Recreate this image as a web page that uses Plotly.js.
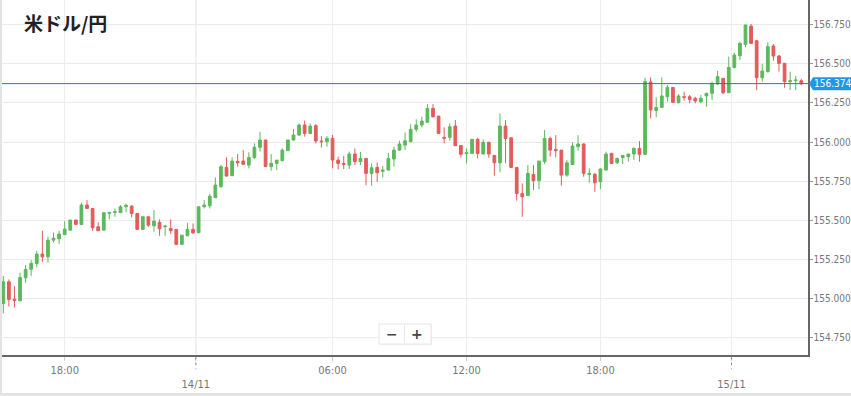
<!DOCTYPE html>
<html><head><meta charset="utf-8">
<script src="https://cdn.plot.ly/plotly-3.0.1.min.js"></script>
<style>
html,body{margin:0;padding:0;background:#e3e3e3;width:851px;height:396px;overflow:hidden}
#wrap{position:absolute;left:2px;top:0;width:849px;height:393px;background:#fff}
#chart{width:849px;height:393px}
</style></head>
<body><div id="wrap"><div id="chart"></div></div>
<script>
// 15-minute candles, USD/JPY, 13/11 15:15 -> 15/11 03:00
const startTime = '2024-11-13T15:15:00Z';
const stepMinutes = 15;
const open = [
154.965,155.104,154.993,154.982,155.130,155.185,155.222,155.282,155.264,155.371,
155.380,155.406,155.435,155.500,155.472,155.596,155.574,155.457,155.435,155.542,
155.549,155.547,155.585,155.589,155.542,155.440,155.521,155.463,155.485,155.457,
155.446,155.440,155.344,155.399,155.440,155.418,155.585,155.591,155.643,155.713,
155.837,155.784,155.876,155.878,155.852,155.901,155.966,156.013,155.842,155.863,
155.880,155.944,156.013,156.045,156.109,156.055,156.104,156.006,156.002,156.023,
155.884,155.863,155.852,155.923,155.874,155.895,155.799,155.837,155.812,155.820,
155.891,155.948,155.980,156.002,156.081,156.109,156.126,156.215,156.166,156.030,
156.030,156.102,155.978,155.925,155.927,156.017,155.923,155.998,155.914,155.867,
156.102,156.027,155.837,155.670,155.656,155.792,155.752,155.874,156.023,155.953,
155.948,155.788,155.856,155.970,155.987,155.792,155.794,155.745,155.820,155.927,
155.867,155.901,155.906,155.923,155.959,155.921,156.385,156.201,156.222,156.290,
156.350,156.252,156.290,156.290,156.280,156.258,156.295,156.312,156.372,156.408,
156.316,156.478,156.553,156.626,156.743,156.649,156.412,156.451,156.615,156.551,
156.504,156.387,156.393,156.393];
const high = [
155.141,155.119,155.076,155.162,155.211,155.243,155.303,155.431,155.393,155.420,
155.431,155.493,155.500,155.500,155.611,155.628,155.574,155.485,155.547,155.549,
155.574,155.596,155.606,155.596,155.542,155.521,155.521,155.564,155.504,155.467,
155.504,155.440,155.403,155.482,155.478,155.585,155.628,155.666,155.773,155.852,
155.901,155.901,155.923,155.948,155.934,155.991,156.066,156.013,155.923,155.884,
155.959,156.013,156.083,156.119,156.137,156.119,156.115,156.038,156.038,156.045,
155.906,155.910,155.938,155.959,155.936,155.895,155.863,155.869,155.848,155.931,
155.970,156.008,156.062,156.113,156.145,156.162,156.243,156.243,156.166,156.094,
156.119,156.141,155.978,155.959,156.017,156.027,156.017,156.002,155.914,156.183,
156.141,156.027,155.837,155.735,155.852,155.852,155.878,156.077,156.034,156.044,
155.948,155.884,155.998,156.044,155.991,155.831,155.799,155.831,155.938,155.931,
155.899,155.914,155.923,155.966,156.006,156.412,156.414,156.286,156.414,156.365,
156.350,156.307,156.322,156.301,156.290,156.301,156.316,156.387,156.455,156.408,
156.547,156.572,156.643,156.750,156.756,156.654,156.500,156.639,156.628,156.558,
156.504,156.451,156.423,156.404];
const low = [
154.901,154.944,154.940,154.982,155.098,155.143,155.196,155.232,155.226,155.356,
155.346,155.406,155.435,155.467,155.467,155.574,155.431,155.431,155.435,155.504,
155.521,155.547,155.549,155.517,155.440,155.440,155.457,155.425,155.399,155.399,
155.410,155.339,155.344,155.399,155.410,155.418,155.574,155.574,155.643,155.709,
155.778,155.784,155.842,155.852,155.831,155.891,155.938,155.842,155.816,155.820,
155.880,155.944,156.008,156.038,156.034,156.051,155.991,155.966,155.970,155.831,
155.824,155.827,155.827,155.852,155.852,155.724,155.720,155.745,155.773,155.820,
155.842,155.944,155.948,156.002,156.066,156.094,156.126,156.156,156.055,155.991,
156.008,155.976,155.899,155.863,155.927,155.895,155.923,155.899,155.784,155.805,
155.863,155.837,155.624,155.521,155.656,155.692,155.698,155.859,155.906,155.901,
155.720,155.777,155.856,155.944,155.777,155.739,155.681,155.698,155.820,155.859,
155.859,155.859,155.874,155.884,155.874,155.921,156.151,156.158,156.222,156.258,
156.254,156.248,156.265,156.248,156.248,156.248,156.226,156.269,156.365,156.307,
156.316,156.472,156.525,156.607,156.628,156.333,156.387,156.444,156.521,156.451,
156.348,156.333,156.333,156.365];
const close = [
155.104,154.991,154.985,155.132,155.183,155.222,155.282,155.264,155.371,155.384,
155.410,155.442,155.500,155.472,155.596,155.574,155.450,155.431,155.547,155.549,
155.553,155.585,155.594,155.542,155.440,155.521,155.467,155.493,155.444,155.461,
155.431,155.344,155.403,155.440,155.418,155.585,155.596,155.653,155.724,155.842,
155.782,155.878,155.867,155.857,155.901,155.966,156.013,155.842,155.863,155.884,
155.948,156.013,156.045,156.109,156.055,156.102,156.006,156.002,156.023,155.884,
155.863,155.857,155.923,155.874,155.895,155.799,155.835,155.803,155.820,155.895,
155.948,155.987,156.008,156.081,156.109,156.134,156.215,156.162,156.055,156.025,
156.098,155.976,155.921,155.931,156.017,155.927,155.998,155.923,155.867,156.102,
156.023,155.837,155.670,155.649,155.799,155.752,155.878,156.023,155.948,155.944,
155.788,155.867,155.974,155.987,155.799,155.799,155.739,155.827,155.923,155.863,
155.895,155.914,155.923,155.959,155.921,156.387,156.205,156.222,156.295,156.350,
156.254,156.295,156.286,156.273,156.263,156.280,156.312,156.376,156.419,156.316,
156.478,156.557,156.632,156.750,156.632,156.412,156.455,156.611,156.551,156.504,
156.387,156.393,156.397,156.374];
const lastPrice = 156.374;
const priceTicks = [154.75,155.00,155.25,155.50,155.75,156.00,156.25,156.50,156.75];
// hour ticks sit on candle centres; date separators sit on the candle boundary before 00:00
const timeTicks = ['2024-11-13 18:00','2024-11-13 23:52:30','2024-11-14 06:00','2024-11-14 12:00','2024-11-14 18:00','2024-11-14 23:52:30'];
const timeTickText = ['18:00','<br>14/11','06:00','12:00','18:00','<br>15/11'];
const dateTicks = ['2024-11-13 23:52:30','2024-11-14 23:52:30'];
const titleText = '米ドル/円';

const t0 = Date.parse(startTime);
const times = open.map((_, i) => new Date(t0 + i*stepMinutes*60000).toISOString().slice(0,16).replace('T',' '));

const G = '#5cb85c', R = '#e35b5b';
const FONT = 'DejaVu Sans Condensed, Liberation Sans Narrow, sans-serif';
const trace = {
  type:'candlestick', x:times, open:open, high:high, low:low, close:close,
  increasing:{line:{color:G,width:1}, fillcolor:G},
  decreasing:{line:{color:R,width:1}, fillcolor:R},
  whiskerwidth:0, hoverinfo:'skip', showlegend:false
};

const shapes = [];
dateTicks.forEach(d => {
  shapes.push({type:'line', xref:'x', yref:'paper', x0:d, x1:d, y0:0, y1:1, line:{color:'#d9d9d9', width:1}, layer:'below'});
  shapes.push({type:'line', xref:'x', yref:'paper', x0:d, x1:d, y0:-0.004, y1:-0.04, line:{color:'#888', width:1, dash:'dot'}});
});
shapes.push({type:'line', xref:'paper', yref:'y', x0:0, x1:1, y0:lastPrice, y1:lastPrice, line:{color:'#0a7fd6', width:1}});
shapes.push({type:'path', xref:'paper', yref:'y', xsizemode:'pixel', ysizemode:'pixel', xanchor:1, yanchor:lastPrice,
  path:'M1,0 L5,-6.5 L43,-6.5 L43,6.5 L5,6.5 Z', fillcolor:'#2196e8', line:{width:0}});
// zoom buttons
shapes.push({type:'rect', xref:'paper', yref:'paper', x0:377.5/806, x1:430/806, y0:1-345/355, y1:1-325/355, fillcolor:'#f2f2f2', line:{width:0}});
shapes.push({type:'rect', xref:'paper', yref:'paper', x0:377/806, x1:429/806, y0:1-344/355, y1:1-324/355, fillcolor:'#ffffff', line:{color:'#e6e6e6', width:1}});
shapes.push({type:'line', xref:'paper', yref:'paper', x0:402.5/806, x1:402.5/806, y0:1-343/355, y1:1-325/355, line:{color:'#e6e6e6', width:1}});

const annotations = [
  {xref:'paper', yref:'paper', x:20/806, y:1-22/355, xanchor:'left', yanchor:'middle', showarrow:false,
   text:'<b>'+titleText+'</b>', font:{family:'Noto Sans CJK JP, sans-serif', size:19, color:'#222'}},
  {xref:'paper', yref:'y', x:1, y:lastPrice, xanchor:'left', yanchor:'middle', xshift:4, showarrow:false,
   text:lastPrice.toFixed(3), font:{family:FONT, size:10, color:'#fff'}},
  {xref:'paper', yref:'paper', x:389.5/806, y:1-334/355, xanchor:'center', yanchor:'middle', showarrow:false,
   text:'<b>−</b>', font:{family:'DejaVu Sans, sans-serif', size:14, color:'#444'}},
  {xref:'paper', yref:'paper', x:415.5/806, y:1-334/355, xanchor:'center', yanchor:'middle', showarrow:false,
   text:'<b>+</b>', font:{family:'DejaVu Sans, sans-serif', size:14, color:'#444'}}
];

const layout = {
  width:849, height:393,
  margin:{l:0, r:43, t:0, b:38, pad:0},
  paper_bgcolor:'#fff', plot_bgcolor:'#fff',
  showlegend:false, hovermode:false, dragmode:false,
  xaxis:{type:'date', range:['2024-11-13 15:11:30','2024-11-15 03:18'], rangeslider:{visible:false},
    tickmode:'array', tickvals:timeTicks, ticktext:timeTickText,
    showgrid:true, gridcolor:'#eeeeee', gridwidth:1,
    showline:true, linecolor:'#666', linewidth:1.5,
    ticks:'outside', ticklen:4, tickcolor:'#cccccc',
    tickfont:{family:FONT, size:11, color:'#777'},
    zeroline:false, fixedrange:true},
  yaxis:{side:'right', range:[154.635,156.910], tickmode:'array', tickvals:priceTicks,
    tickformat:'.3f', showgrid:true, gridcolor:'#ebebeb', gridwidth:1,
    showline:true, linecolor:'#666', linewidth:1.5,
    ticks:'outside', ticklen:3, tickcolor:'#999', ticklabelstandoff:-1,
    tickfont:{family:FONT, size:10, color:'#777'},
    zeroline:false, fixedrange:true},
  shapes:shapes, annotations:annotations
};
Plotly.newPlot('chart', [trace], layout, {displayModeBar:false, staticPlot:true});
</script></body></html>
